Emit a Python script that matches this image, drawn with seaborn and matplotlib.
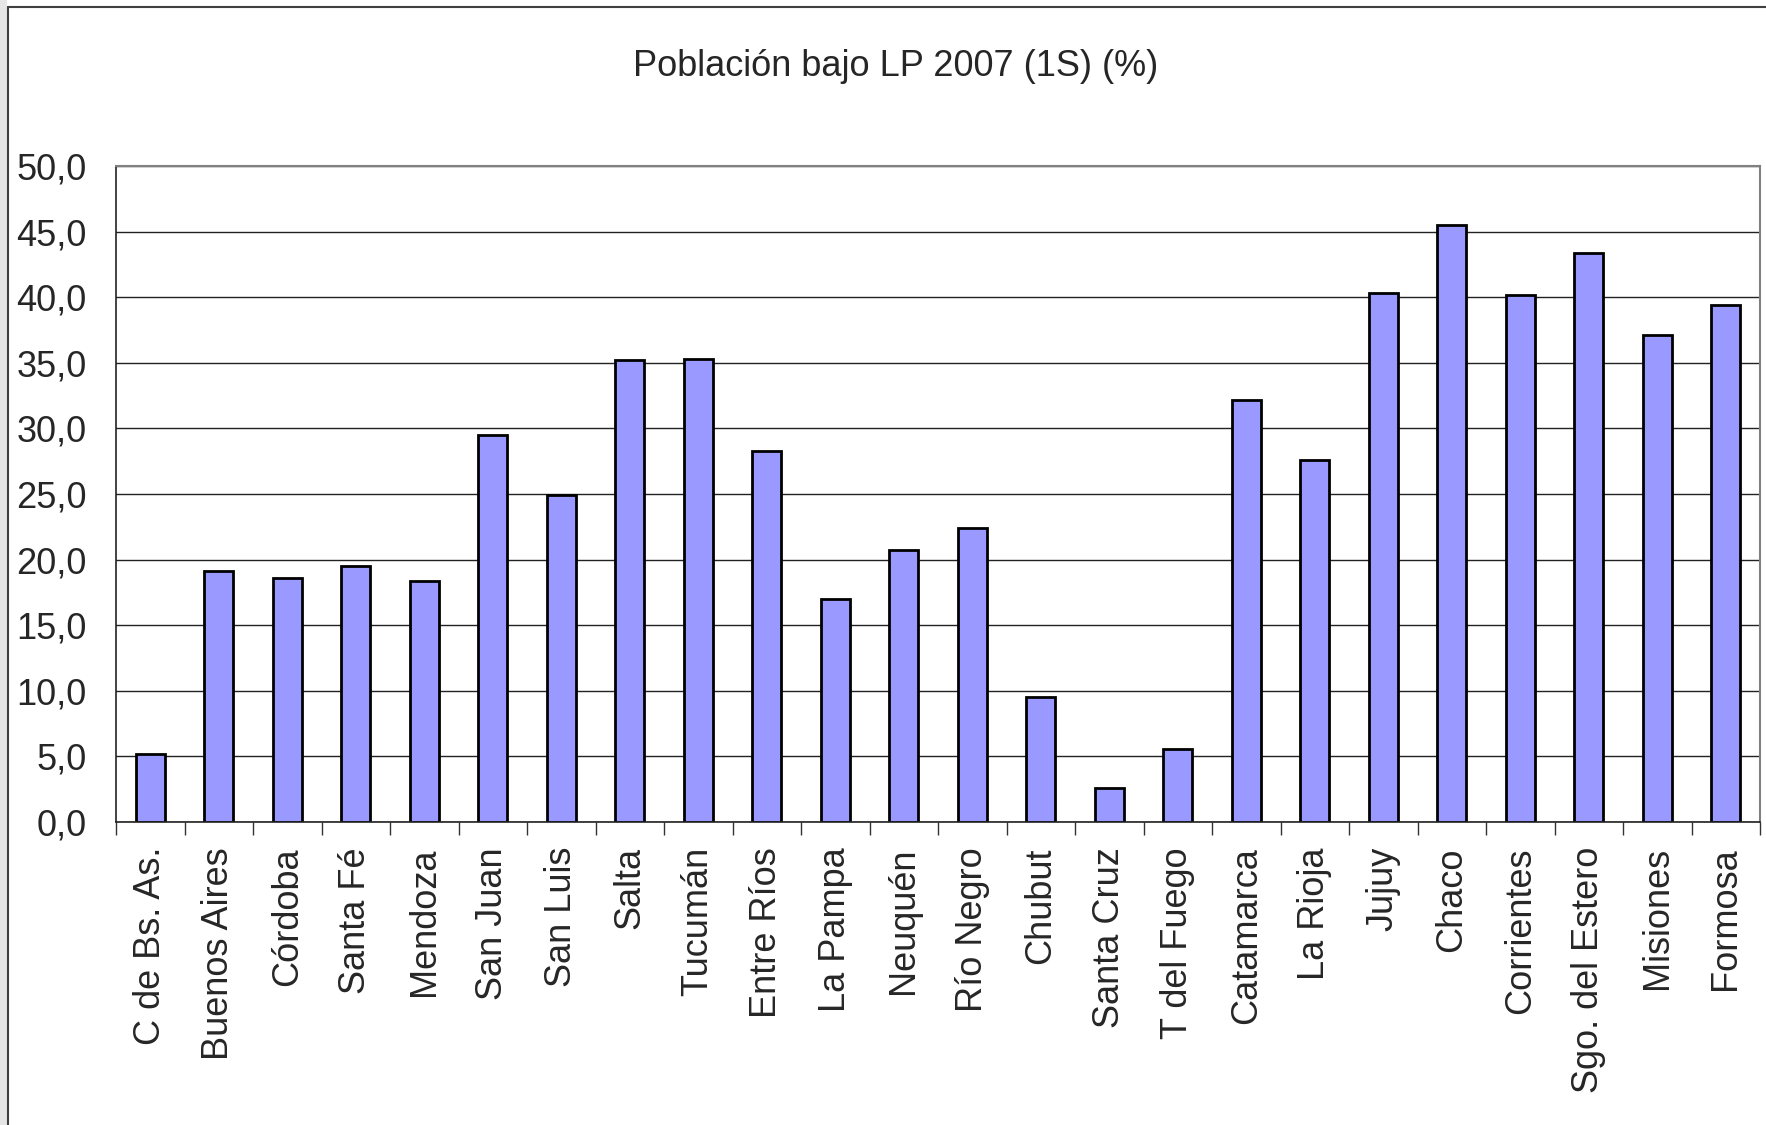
"""
Población bajo la línea de pobreza 2007 (1S), por provincia.
Recreates the Excel-style column chart with seaborn.
"""

import numpy as np
import pandas as pd
import matplotlib
matplotlib.use("Agg")
import matplotlib.pyplot as plt
from matplotlib.lines import Line2D
from matplotlib.patches import Rectangle
from matplotlib.ticker import FixedLocator, FuncFormatter
import seaborn as sns

# ─────────────────────────────────────────────
# Data
# ─────────────────────────────────────────────

provincias = [
    "C de Bs. As.", "Buenos Aires", "Córdoba", "Santa Fé", "Mendoza",
    "San Juan", "San Luis", "Salta", "Tucumán", "Entre Ríos",
    "La Pampa", "Neuquén", "Río Negro", "Chubut", "Santa Cruz",
    "T del Fuego", "Catamarca", "La Rioja", "Jujuy", "Chaco",
    "Corrientes", "Sgo. del Estero", "Misiones", "Formosa",
]
pobreza = [
    5.2, 19.1, 18.6, 19.5, 18.4,
    29.5, 24.9, 35.2, 35.3, 28.3,
    17.0, 20.7, 22.4, 9.5, 2.6,
    5.6, 32.2, 27.6, 40.3, 45.5,
    40.2, 43.4, 37.1, 39.4,
]
y_ticks = [0, 5, 10, 15, 20, 25, 30, 35, 40, 45, 50]
titulo = "Población bajo LP 2007 (1S) (%)"

df = pd.DataFrame({"provincia": provincias, "pct": pobreza})

# ─────────────────────────────────────────────
# Style
# ─────────────────────────────────────────────

sns.set_style("white")
plt.rcParams["font.family"] = ["Liberation Sans", "DejaVu Sans"]

W, H, DPI = 1766, 1125, 100
fig = plt.figure(figsize=(W / DPI, H / DPI), dpi=DPI, facecolor="white")

# plot area in pixel terms -> figure fractions
left, right, top, bottom = 116, 1760, 166, 822
ax = fig.add_axes([left / W, 1 - bottom / H, (right - left) / W, (bottom - top) / H])

sns.barplot(
    data=df, x="provincia", y="pct", ax=ax,
    color="#9999FF", saturation=1, width=0.43,
    edgecolor="black", linewidth=2.0,
)

ax.set_xlim(-0.5, len(provincias) - 0.5)
ax.set_ylim(0, 50)
ax.set_xlabel("")
ax.set_ylabel("")

# y axis: Excel style "5,0"
ax.yaxis.set_major_locator(FixedLocator(y_ticks))
ax.yaxis.set_major_formatter(FuncFormatter(lambda v, _: f"{v:.1f}".replace(".", ",")))
ax.tick_params(axis="y", which="major", direction="out", length=8, width=1,
               color="#333333", labelsize=26, pad=13)
ax.yaxis.grid(True, color="#222222", linewidth=1.0)
ax.set_axisbelow(True)

# x axis: labels on centers, tick marks between categories
ax.set_xticks(range(len(provincias)))
ax.set_xticklabels(provincias, rotation=90, fontsize=26, va="top", ha="center")
ax.xaxis.set_minor_locator(FixedLocator(np.arange(-0.5, len(provincias), 1.0)))
ax.tick_params(axis="x", which="major", length=0, pad=18)
ax.tick_params(axis="x", which="minor", direction="out", length=9, width=1,
               color="#333333", bottom=True)

for side in ["left", "bottom"]:
    ax.spines[side].set_color("#222222")
    ax.spines[side].set_linewidth(1.2)
for side in ["top", "right"]:
    ax.spines[side].set_color("#808080")
    ax.spines[side].set_linewidth(1.5)

# ─────────────────────────────────────────────
# Title and chart frame
# ─────────────────────────────────────────────

fig.text(896 / W, 1 - 66 / H, titulo, ha="center", va="center", fontsize=26)

# left striped margin and dark frame edge like the original screenshot
fig.add_artist(Rectangle((0, 0), 7 / W, 1, transform=fig.transFigure,
                         facecolor="#e6e6e6", edgecolor="none"))
fig.add_artist(Line2D([8 / W, 8 / W], [0, 1 - 7 / H], transform=fig.transFigure,
                      color="#404040", linewidth=1.5))
fig.add_artist(Line2D([8 / W, 1], [1 - 7 / H, 1 - 7 / H], transform=fig.transFigure,
                      color="#404040", linewidth=1.5))

fig.savefig("out.png", dpi=DPI, facecolor="white")
plt.close(fig)
print("saved out.png")
